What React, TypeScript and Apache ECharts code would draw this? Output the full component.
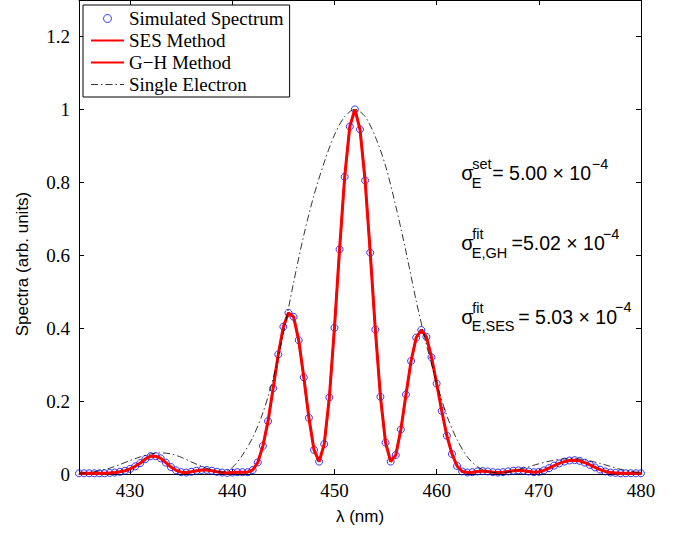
import React, { useEffect, useRef } from "react";
import * as echarts from "echarts";

// Wavelength grid of the simulated spectrum (nm)
const lambdaSim = [
  425, 425.5, 426, 426.5, 427, 427.5, 428, 428.5, 429, 429.5,
  430, 430.5, 431, 431.5, 432, 432.5, 433, 433.5, 434, 434.5,
  435, 435.5, 436, 436.5, 437, 437.5, 438, 438.5, 439, 439.5,
  440, 440.5, 441, 441.5, 442, 442.5, 443, 443.5, 444, 444.5,
  445, 445.5, 446, 446.5, 447, 447.5, 448, 448.5, 449, 449.5,
  450, 450.5, 451, 451.5, 452, 452.5, 453, 453.5, 454, 454.5,
  455, 455.5, 456, 456.5, 457, 457.5, 458, 458.5, 459, 459.5,
  460, 460.5, 461, 461.5, 462, 462.5, 463, 463.5, 464, 464.5,
  465, 465.5, 466, 466.5, 467, 467.5, 468, 468.5, 469, 469.5,
  470, 470.5, 471, 471.5, 472, 472.5, 473, 473.5, 474, 474.5,
  475, 475.5, 476, 476.5, 477, 477.5, 478, 478.5, 479, 479.5,
  480,
];

// Simulated spectrum values (arb. units)
const simulated = [
  0.002, 0.002, 0.002, 0.002, 0.002, 0.002, 0.003, 0.004, 0.006, 0.009,
  0.014, 0.021, 0.030, 0.041, 0.049, 0.049, 0.043, 0.031, 0.019, 0.010,
  0.005, 0.004, 0.006, 0.009, 0.011, 0.011, 0.009, 0.006, 0.004, 0.003,
  0.004, 0.005, 0.005, 0.005, 0.011, 0.032, 0.077, 0.145, 0.235, 0.328,
  0.404, 0.442, 0.431, 0.367, 0.265, 0.154, 0.066, 0.034, 0.082, 0.210,
  0.401, 0.616, 0.815, 0.953, 1.000, 0.945, 0.805, 0.607, 0.396, 0.212,
  0.086, 0.034, 0.052, 0.122, 0.218, 0.310, 0.374, 0.395, 0.376, 0.320,
  0.248, 0.173, 0.105, 0.055, 0.022, 0.007, 0.004, 0.005, 0.007, 0.008,
  0.007, 0.005, 0.004, 0.005, 0.007, 0.009, 0.010, 0.009, 0.007, 0.005,
  0.006, 0.010, 0.016, 0.023, 0.029, 0.034, 0.037, 0.038, 0.036, 0.031,
  0.025, 0.018, 0.012, 0.007, 0.004, 0.003, 0.002, 0.002, 0.002, 0.002,
  0.002,
];

// Fitted spectra (they coincide with the simulated points in the picture)
const sesFit = simulated;
const ghFit = simulated;

// Single-electron spectrum
const lambdaSingle = [
  425, 426, 427, 428, 429, 430, 431, 432, 433, 434,
  435, 436, 437, 438, 439, 440, 441, 442, 443, 444,
  445, 446, 447, 448, 449, 450, 451, 452, 453, 454,
  455, 456, 457, 458, 459, 460, 461, 462, 463, 464,
  465, 466, 467, 468, 469, 470, 471, 472, 473, 474,
  475, 476, 477, 478, 479, 480,
];
const singleElectron = [
  0.002, 0.004, 0.009, 0.016, 0.026, 0.037, 0.047, 0.055, 0.058, 0.055,
  0.046, 0.033, 0.021, 0.011, 0.005, 0.018, 0.052, 0.100, 0.168, 0.262,
  0.385, 0.525, 0.655, 0.765, 0.855, 0.930, 0.980, 1.000, 0.980, 0.925,
  0.845, 0.735, 0.610, 0.475, 0.355, 0.250, 0.160, 0.094, 0.047, 0.020,
  0.007, 0.003, 0.005, 0.012, 0.020, 0.028, 0.035, 0.040, 0.042, 0.041,
  0.036, 0.029, 0.021, 0.013, 0.007, 0.003,
];

const xTicks = [430, 440, 450, 460, 470, 480];
const yTicks = [0, 0.2, 0.4, 0.6, 0.8, 1, 1.2];
const seriesNames = ["Simulated Spectrum", "SES Method", "G\u2212H Method", "Single Electron"];
const xTitle = "\u03bb (nm)";
const yTitle = "Spectra (arb. units)";

const annotations = [
  { sup: "set", sub: "E", value: "= 5.00 \u00d7 10", exp: "\u22124" },
  { sup: "fit", sub: "E,GH", value: "=5.02 \u00d7 10", exp: "\u22124" },
  { sup: "fit", sub: "E,SES", value: "= 5.03 \u00d7 10", exp: "\u22124" },
];

const SANS = "Liberation Sans";
const SERIF = "Liberation Serif";

function pairs(xs: number[], ys: number[]) {
  return xs.map((x, i) => [x, ys[i]]);
}

function isTick(v: number, list: number[]) {
  return list.some((t) => Math.abs(t - v) < 1e-6);
}

function buildAnnotationGraphics() {
  const rowBase = [180, 250, 323.5];
  const valueX = [492.3, 511.5, 518.3];
  const expX = [591.7, 602.7, 615.1];
  const els: any[] = [];
  const mainFs = 19.5;
  const smallFs = 14.5;
  const sigFs = 20;
  const txt = (text: string, x: number, baseline: number, fs: number) => ({
    type: "text",
    x,
    y: baseline - 0.35 * fs,
    silent: true,
    style: {
      text,
      fill: "#000",
      fontFamily: SANS,
      fontSize: fs,
      align: "left",
      verticalAlign: "middle",
    },
  });
  annotations.forEach((a, i) => {
    const b = rowBase[i];
    els.push(txt("\u03c3", 461.2, b, sigFs));
    els.push(txt(a.sup, 472.3, b - 10.5, smallFs));
    els.push(txt(a.sub, 471.8, b + 8, smallFs));
    els.push(txt(a.value, valueX[i], b, mainFs));
    els.push(txt(a.exp, expX[i], b - 11, smallFs));
  });
  return els;
}

export default function App() {
  const ref = useRef<HTMLDivElement>(null);
  useEffect(() => {
    if (!ref.current) return;
    const chart = echarts.init(ref.current, undefined, { renderer: "svg" });
    const axisLine = { show: true, onZero: false, lineStyle: { color: "#000", width: 1 } };
    const hiddenSymbol = { color: "rgba(0,0,0,0)", borderColor: "rgba(0,0,0,0)", borderWidth: 0, opacity: 0 };
    const option: any = {
      animation: false,
      backgroundColor: "#fff",
      textStyle: { fontFamily: SERIF, fontSize: 19, color: "#000" },
      grid: { left: 79, right: 40, top: 0, bottom: 59, containLabel: false },
      legend: {
        orient: "vertical",
        left: 83,
        top: 5,
        padding: [4, 6, 3, 7],
        itemGap: 3,
        itemWidth: 33,
        itemHeight: 8,
        itemTextGap: 4,
        borderColor: "#000",
        borderWidth: 1,
        borderRadius: 0,
        backgroundColor: "#fff",
        selectedMode: false,
        textStyle: { fontFamily: SERIF, fontSize: 19, color: "#000" },
        data: [
          {
            name: seriesNames[0],
            icon: "circle",
            itemStyle: { color: "rgba(0,0,0,0)", borderColor: "#0000ff", borderWidth: 1 },
          },
          { name: seriesNames[1], lineStyle: { width: 2 }, itemStyle: hiddenSymbol },
          { name: seriesNames[2], lineStyle: { width: 2 }, itemStyle: hiddenSymbol },
          { name: seriesNames[3], lineStyle: { width: 0.8 }, itemStyle: hiddenSymbol },
        ],
      },
      xAxis: [
        {
          type: "value",
          min: 425,
          max: 480,
          interval: 5,
          position: "bottom",
          name: xTitle,
          nameLocation: "middle",
          nameGap: 34,
          nameTextStyle: { fontFamily: SANS, fontSize: 17, color: "#000" },
          axisLine,
          axisTick: { show: true, inside: true, length: 5, customValues: xTicks, lineStyle: { color: "#000" } },
          axisLabel: {
            show: true,
            margin: 7,
            fontFamily: SERIF,
            fontSize: 19,
            color: "#000",
            hideOverlap: false,
            showMinLabel: true,
            showMaxLabel: true,
            formatter: (v: number) => (isTick(v, xTicks) ? String(v) : ""),
          },
          splitLine: { show: false },
        },
        {
          type: "value",
          min: 425,
          max: 480,
          position: "top",
          axisLine,
          axisTick: { show: true, inside: true, length: 5, customValues: xTicks, lineStyle: { color: "#000" } },
          axisLabel: { show: false },
          splitLine: { show: false },
        },
      ],
      yAxis: [
        {
          type: "value",
          min: 0,
          max: 1.3,
          interval: 0.2,
          position: "left",
          axisLine,
          axisTick: { show: true, inside: true, length: 5, customValues: yTicks, lineStyle: { color: "#000" } },
          axisLabel: {
            show: true,
            margin: 9,
            fontFamily: SERIF,
            fontSize: 19,
            color: "#000",
            hideOverlap: false,
            formatter: (v: number) => (isTick(v, yTicks) ? String(Math.round(v * 10) / 10) : ""),
          },
          splitLine: { show: false },
        },
        {
          type: "value",
          min: 0,
          max: 1.3,
          position: "right",
          axisLine,
          axisTick: { show: true, inside: true, length: 5, customValues: yTicks, lineStyle: { color: "#000" } },
          axisLabel: { show: false },
          splitLine: { show: false },
        },
      ],
      series: [
        {
          name: seriesNames[0],
          type: "scatter",
          xAxisIndex: 0,
          yAxisIndex: 0,
          data: pairs(lambdaSim, simulated),
          symbol: "circle",
          symbolSize: 7,
          itemStyle: { color: "rgba(0,0,0,0)", borderColor: "#0000ff", borderWidth: 1 },
          z: 2,
        },
        {
          name: seriesNames[1],
          type: "line",
          data: pairs(lambdaSim, sesFit),
          symbol: "none",
          showSymbol: false,
          lineStyle: { color: "#ff0000", width: 3 },
          itemStyle: { color: "#ff0000" },
          z: 3,
        },
        {
          name: seriesNames[2],
          type: "line",
          data: pairs(lambdaSim, ghFit),
          symbol: "none",
          showSymbol: false,
          lineStyle: { color: "#ff0000", width: 2 },
          itemStyle: { color: "#ff0000" },
          z: 3,
        },
        {
          name: seriesNames[3],
          type: "line",
          data: pairs(lambdaSingle, singleElectron),
          symbol: "none",
          showSymbol: false,
          smooth: 0.3,
          lineStyle: { color: "#000", width: 0.8, type: [7, 3, 1.5, 3] },
          itemStyle: { color: "#000" },
          z: 4,
        },
      ],
      graphic: [
        {
          type: "text",
          x: 22,
          y: 264,
          rotation: Math.PI / 2,
          silent: true,
          style: {
            text: yTitle,
            fill: "#000",
            fontFamily: SANS,
            fontSize: 17,
            align: "center",
            verticalAlign: "middle",
          },
        },
        ...buildAnnotationGraphics(),
      ],
    };
    chart.setOption(option);
    return () => chart.dispose();
  }, []);
  return (
    <div
      ref={ref}
      style={{ position: "absolute", left: 0, top: 0, width: 681, height: 533, background: "#fff" }}
    />
  );
}
